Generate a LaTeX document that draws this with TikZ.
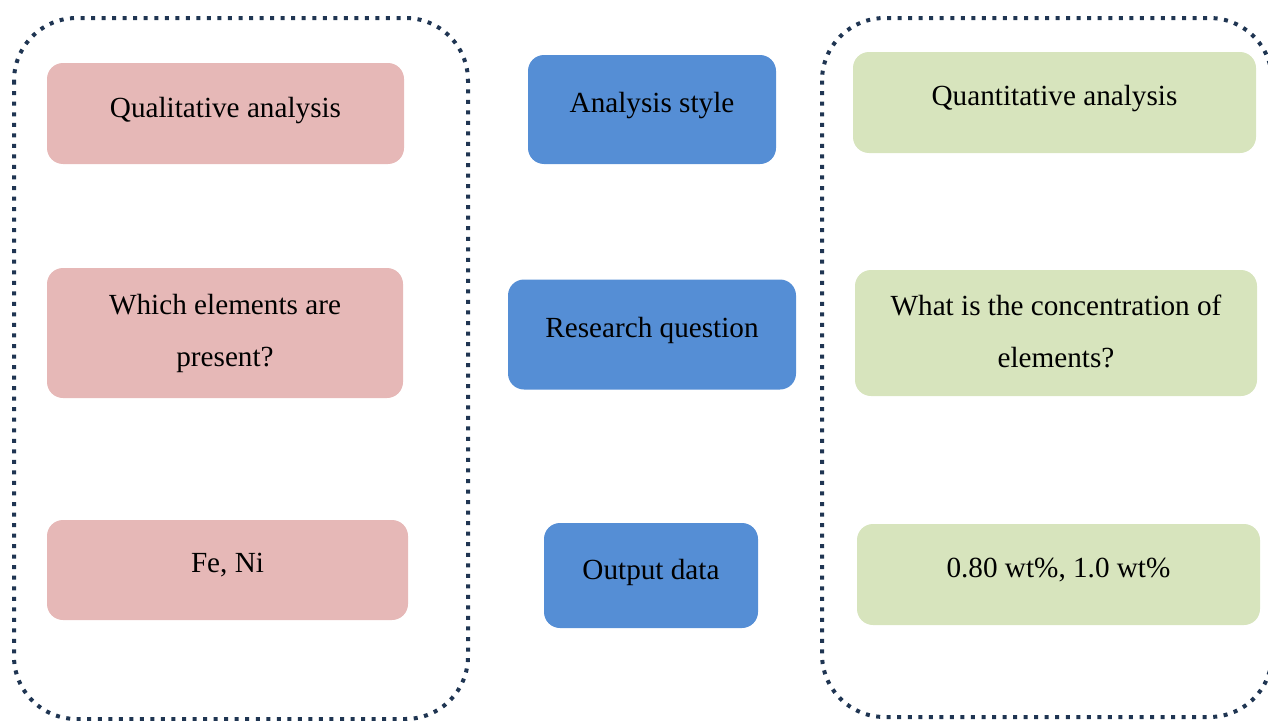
\documentclass[tikz,border=0pt]{standalone}
\usepackage{fontspec}
\setmainfont{Liberation Serif}
\definecolor{qualfill}{HTML}{E6B8B7}
\definecolor{midfill}{HTML}{558ED5}
\definecolor{quantfill}{HTML}{D7E4BD}
\definecolor{framecol}{HTML}{1F3552}
\tikzset{
  panel/.style={draw=framecol, line width=3pt, dash pattern=on 3pt off 4.9pt,
                rounded corners=47pt},
  card/.style={rectangle, rounded corners=12pt, draw=none, inner sep=0pt},
  qualbox/.style={card, fill=qualfill},
  midbox/.style={card, fill=midfill},
  quantbox/.style={card, fill=quantfill},
  caption/.style={anchor=base, inner sep=0pt, align=center, text=black,
                  font=\fontsize{21.9pt}{39pt}\selectfont},
}
\begin{document}
\begin{tikzpicture}[x=0.75pt, y=-0.75pt]
\clip (0,0) rectangle (1268,721);

% dotted panels
\draw[panel] (14,18) rectangle (468,719);
\draw[panel] (822,18) rectangle (1272,717);

% left column: qualitative
\node[qualbox, minimum width=0.75*357pt, minimum height=0.75*101pt] (ql1) at (225.5,113.5) {};
\node[qualbox, minimum width=0.75*356pt, minimum height=0.75*130pt] (ql2) at (225,333) {};
\node[qualbox, minimum width=0.75*361pt, minimum height=0.75*100pt] (ql3) at (227.5,570) {};
\node[caption] (ql1t) at (225.5,117) {Qualitative analysis};
% two-line captions are anchored at the baseline of their last line
\node[caption] (ql2t) at (225,366) {Which elements are\\present?};
\node[caption] (ql3t) at (227.5,572) {Fe, Ni};

% middle column: categories
\node[midbox, minimum width=0.75*248pt, minimum height=0.75*109pt] (md1) at (652,109.5) {};
\node[midbox, minimum width=0.75*288pt, minimum height=0.75*110pt] (md2) at (652,334.5) {};
\node[midbox, minimum width=0.75*214pt, minimum height=0.75*105pt] (md3) at (651,575.5) {};
\node[caption] (md1t) at (652,112) {Analysis style};
\node[caption] (md2t) at (652,337) {Research question};
\node[caption] (md3t) at (651,579) {Output data};

% right column: quantitative
\node[quantbox, minimum width=0.75*403pt, minimum height=0.75*101pt] (qn1) at (1054.5,102.5) {};
\node[quantbox, minimum width=0.75*402pt, minimum height=0.75*126pt] (qn2) at (1056,333) {};
\node[quantbox, minimum width=0.75*403pt, minimum height=0.75*101pt] (qn3) at (1058.5,574.5) {};
\node[caption] (qn1t) at (1054.5,105) {Quantitative analysis};
\node[caption] (qn2t) at (1056,367) {What is the concentration of\\elements?};
\node[caption] (qn3t) at (1058.5,577) {0.80 wt\%, 1.0 wt\%};
\end{tikzpicture}
\end{document}
